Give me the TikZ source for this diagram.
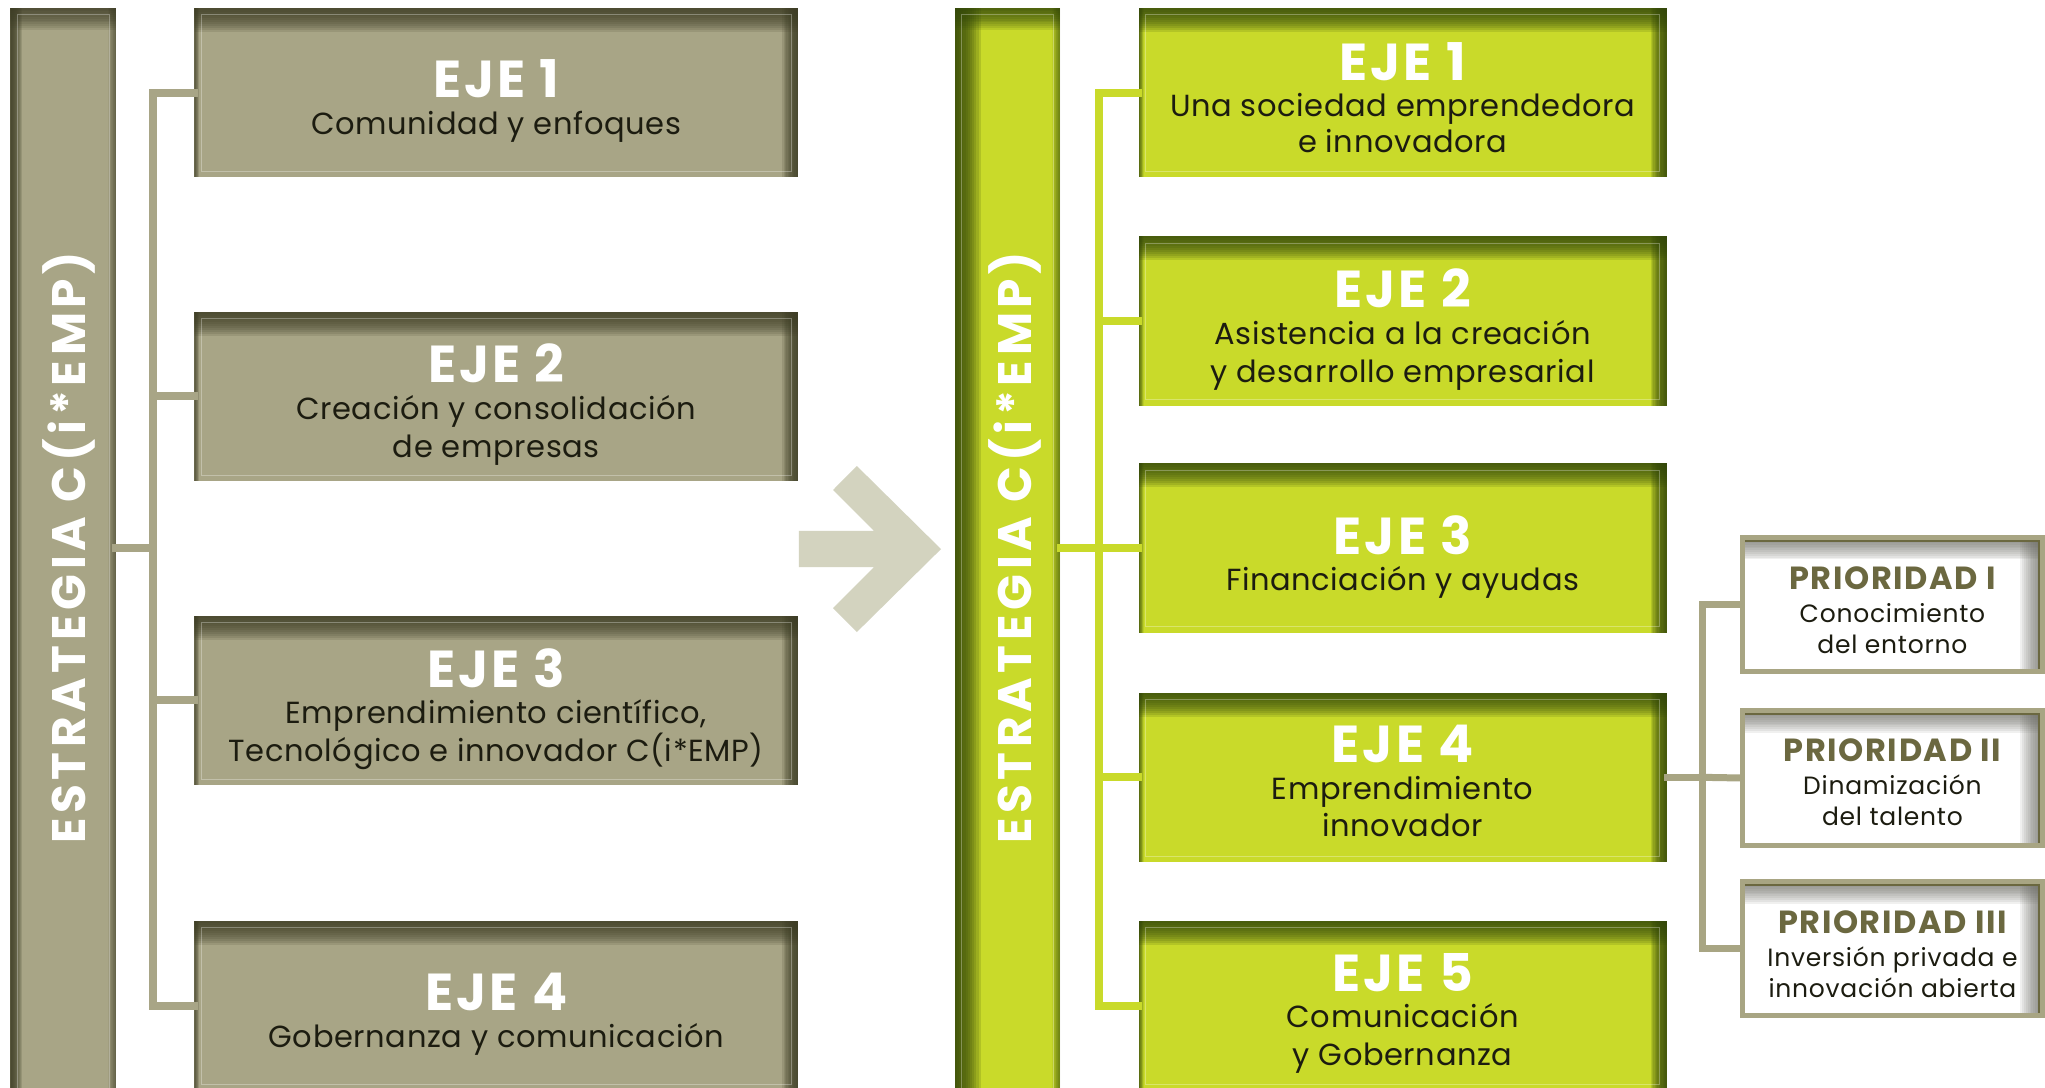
\documentclass[tikz,border=0pt]{standalone}
\usepackage{fontspec}
\setmainfont{Poppins}
\usetikzlibrary{calc}
\definecolor{khaki}{HTML}{A8A586}
\definecolor{khakidark}{HTML}{3E3E26}
\definecolor{lime}{HTML}{C9DA2A}
\definecolor{limedark}{HTML}{34480A}
\definecolor{arrowc}{HTML}{D3D3BF}
\definecolor{txt}{HTML}{1C1C10}
\definecolor{ptitle}{HTML}{6B6840}
\definecolor{pline}{HTML}{A8A583}
\definecolor{pshadow}{HTML}{6E6E66}
\def\U{1.3042}
% soft inner shadows built from stacked translucent strips
\newcommand\gtop[3]{\foreach \i in {1,...,12}{\fill[#1,fill opacity=#3] (path picture bounding box.north west) rectangle ([yshift={-\i*#2/12}]path picture bounding box.north east);}}
\newcommand\gleft[3]{\foreach \i in {1,...,12}{\fill[#1,fill opacity=#3] (path picture bounding box.north west) rectangle ([xshift={\i*#2/12}]path picture bounding box.south west);}}
\newcommand\gright[3]{\foreach \i in {1,...,12}{\fill[#1,fill opacity=#3] ([xshift={-\i*#2/12}]path picture bounding box.north east) rectangle (path picture bounding box.south east);}}
\tikzset{
  ebox/.style 2 args={draw=none, fill=#1, inner sep=0pt, minimum width=#2*\U pt},
  shadebox/.style={path picture={
    \gtop{#1}{24pt}{0.14}
    \gright{#1}{16pt}{0.15}
    \gleft{#1}{5pt}{0.10}
    \draw[white, opacity=0.3, line width=1pt]
      ([xshift=7pt,yshift=-7pt]path picture bounding box.north west) rectangle ([xshift=-7pt,yshift=6pt]path picture bounding box.south east);
  }},
  shadebar/.style 2 args={path picture={
    \gtop{#1}{22pt}{0.12}
    \gleft{#1}{#2}{0.16}
    \gright{#1}{8pt}{0.07}
    \draw[white, opacity=0.3, line width=1pt]
      ([xshift=7pt,yshift=-7pt]path picture bounding box.north west) rectangle ([xshift=-7pt,yshift=-2000pt]path picture bounding box.north east);
  }},
  pbox/.style={draw=pline, line width=5pt, fill=white, inner sep=0pt,
    minimum width=230*\U pt, minimum height=103*\U pt,
    path picture={
    \gtop{pshadow}{22pt}{0.10}
    \gright{pshadow}{22pt}{0.10}
    \draw[ptitle, line width=2.5pt] ([yshift=-3pt]path picture bounding box.north west) -- ([xshift=-3pt,yshift=-3pt]path picture bounding box.north east) -- ([xshift=-3pt]path picture bounding box.south east);
  }},
  ttl/.style={font=\fontsize{52}{52}\selectfont\bfseries\addfontfeature{LetterSpace=6}, text=white, anchor=base, inner sep=0pt},
  subl/.style={font=\fontsize{30.5}{30.5}\selectfont\addfontfeature{LetterSpace=2}, text=txt, anchor=base, inner sep=0pt},
  ptl/.style={font=\fontsize{32}{32}\selectfont\bfseries\addfontfeature{LetterSpace=5}, text=ptitle, anchor=base, inner sep=0pt},
  psub/.style={font=\fontsize{25}{25}\selectfont\addfontfeature{LetterSpace=3}, text=txt, anchor=base, inner sep=0pt},
  vert/.style={font=\fontsize{47}{47}\selectfont\bfseries\addfontfeature{LetterSpace=10}, text=white, rotate=90, inner sep=0pt},
  lconn/.style={draw=khaki, line width=8pt, line join=miter, line cap=rect},
  rconn/.style={draw=lime, line width=8pt, line join=miter, line cap=rect},
  pconn/.style={draw=pline, line width=7pt, line join=miter, line cap=rect},
}
\begin{document}
\begin{tikzpicture}[x=1.3042pt, y=-1.3042pt]
\useasboundingbox (0,0) rectangle (1568,834);
\clip (0,0) rectangle (1568,834);
\fill[white] (0,0) rectangle (1568,834);

% ---------- left column ----------
\node[ebox={khaki}{81}, minimum height=828*\U pt, shadebar={khakidark}{12pt}] (lbar) at (48.5,420) {};
\node[vert] (lbart) at (52.5,420) {ESTRATEGIA C(i*EMP)};

\node[ebox={khaki}{463}, minimum height=130*\U pt, shadebox=khakidark] (l1) at (380.5,71) {};
\node[ebox={khaki}{463}, minimum height=130*\U pt, shadebox=khakidark] (l2) at (380.5,304) {};
\node[ebox={khaki}{463}, minimum height=130*\U pt, shadebox=khakidark] (l3) at (380.5,537) {};
\node[ebox={khaki}{463}, minimum height=130*\U pt, shadebox=khakidark] (l4) at (380.5,771) {};

\coordinate (ls) at (117,420);
\draw[lconn] (lbar.east) -- (ls);
\draw[lconn] (l1.west) -| (ls) |- (l4.west);
\draw[lconn] (ls |- l2.west) -- (l2.west);
\draw[lconn] (ls |- l3.west) -- (l3.west);

\node[ttl] (l1t) at (380.5,75) {EJE 1};
\node[subl] (l1a) at (380.5,103) {Comunidad y enfoques};
\node[ttl] (l2t) at (380.5,293) {EJE 2};
\node[subl] (l2a) at (380.5,322) {Creación y consolidación};
\node[subl] (l2b) at (380.5,351) {de empresas};
\node[ttl] (l3t) at (380.5,527) {EJE 3};
\node[subl] (l3a) at (380.5,555) {Emprendimiento científico,};
\node[subl] (l3b) at (380.5,584) {Tecnológico e innovador C(i*EMP)};
\node[ttl] (l4t) at (380.5,775) {EJE 4};
\node[subl] (l4a) at (380.5,803) {Gobernanza y comunicación};

% ---------- arrow ----------
\fill[arrowc] (721.5,421) -- (657,357.3) -- (638.7,375.7) -- (670.2,407.1) -- (612.6,407.1)
  -- (612.6,434.8) -- (670.2,434.8) -- (638.7,466.2) -- (657,484.6) -- cycle;

% ---------- right column ----------
\node[ebox={lime}{81}, minimum height=828*\U pt, shadebar={limedark}{26pt}] (rbar) at (772.5,420) {};
\node[vert] (rbart) at (778,420) {ESTRATEGIA C(i*EMP)};

\node[ebox={lime}{405}, minimum height=130*\U pt, shadebox=limedark] (r1) at (1075.5,71) {};
\node[ebox={lime}{405}, minimum height=130*\U pt, shadebox=limedark] (r2) at (1075.5,246) {};
\node[ebox={lime}{405}, minimum height=130*\U pt, shadebox=limedark] (r3) at (1075.5,420) {};
\node[ebox={lime}{405}, minimum height=130*\U pt, shadebox=limedark] (r4) at (1075.5,596) {};
\node[ebox={lime}{405}, minimum height=130*\U pt, shadebox=limedark] (r5) at (1075.5,771) {};

\coordinate (rs) at (843,420);
\draw[rconn] (rbar.east) -- (r3.west);
\draw[rconn] (r1.west) -| (rs) |- (r5.west);
\draw[rconn] (rs |- r2.west) -- (r2.west);
\draw[rconn] (rs |- r4.west) -- (r4.west);

\node[ttl] (r1t) at (1075.5,62) {EJE 1};
\node[subl] (r1a) at (1075.5,89) {Una sociedad emprendedora};
\node[subl] (r1b) at (1075.5,117) {e innovadora};
\node[ttl] (r2t) at (1075.5,236) {EJE 2};
\node[subl] (r2a) at (1075.5,264) {Asistencia a la creación};
\node[subl] (r2b) at (1075.5,293) {y desarrollo empresarial};
\node[ttl] (r3t) at (1075.5,425) {EJE 3};
\node[subl] (r3a) at (1075.5,453) {Financiación y ayudas};
\node[ttl] (r4t) at (1075.5,585) {EJE 4};
\node[subl] (r4a) at (1075.5,613) {Emprendimiento};
\node[subl] (r4b) at (1075.5,641) {innovador};
\node[ttl] (r5t) at (1075.5,760) {EJE 5};
\node[subl] (r5a) at (1075.5,788) {Comunicación};
\node[subl] (r5b) at (1075.5,817) {y Gobernanza};

% ---------- priorities ----------
\node[pbox] (p1) at (1451,463.5) {};
\node[pbox] (p2) at (1451,596.5) {};
\node[pbox] (p3) at (1451,727.5) {};

\coordinate (ps) at (1305,596);
\draw[pconn] (r4.east) -- (ps);
\draw[pconn] (p1.west) -| (ps) |- (p3.west);
\draw[pconn] (ps) -- (p2.west);

\node[ptl] (p1t) at (1451,452) {PRIORIDAD I};
\node[psub] (p1a) at (1451,477) {Conocimiento};
\node[psub] (p1b) at (1451,501) {del entorno};
\node[ptl] (p2t) at (1451,584) {PRIORIDAD II};
\node[psub] (p2a) at (1451,609) {Dinamización};
\node[psub] (p2b) at (1451,633) {del talento};
\node[ptl] (p3t) at (1451,716) {PRIORIDAD III};
\node[psub] (p3a) at (1451,741) {Inversión privada e};
\node[psub] (p3b) at (1451,765) {innovación abierta};
\end{tikzpicture}
\end{document}
